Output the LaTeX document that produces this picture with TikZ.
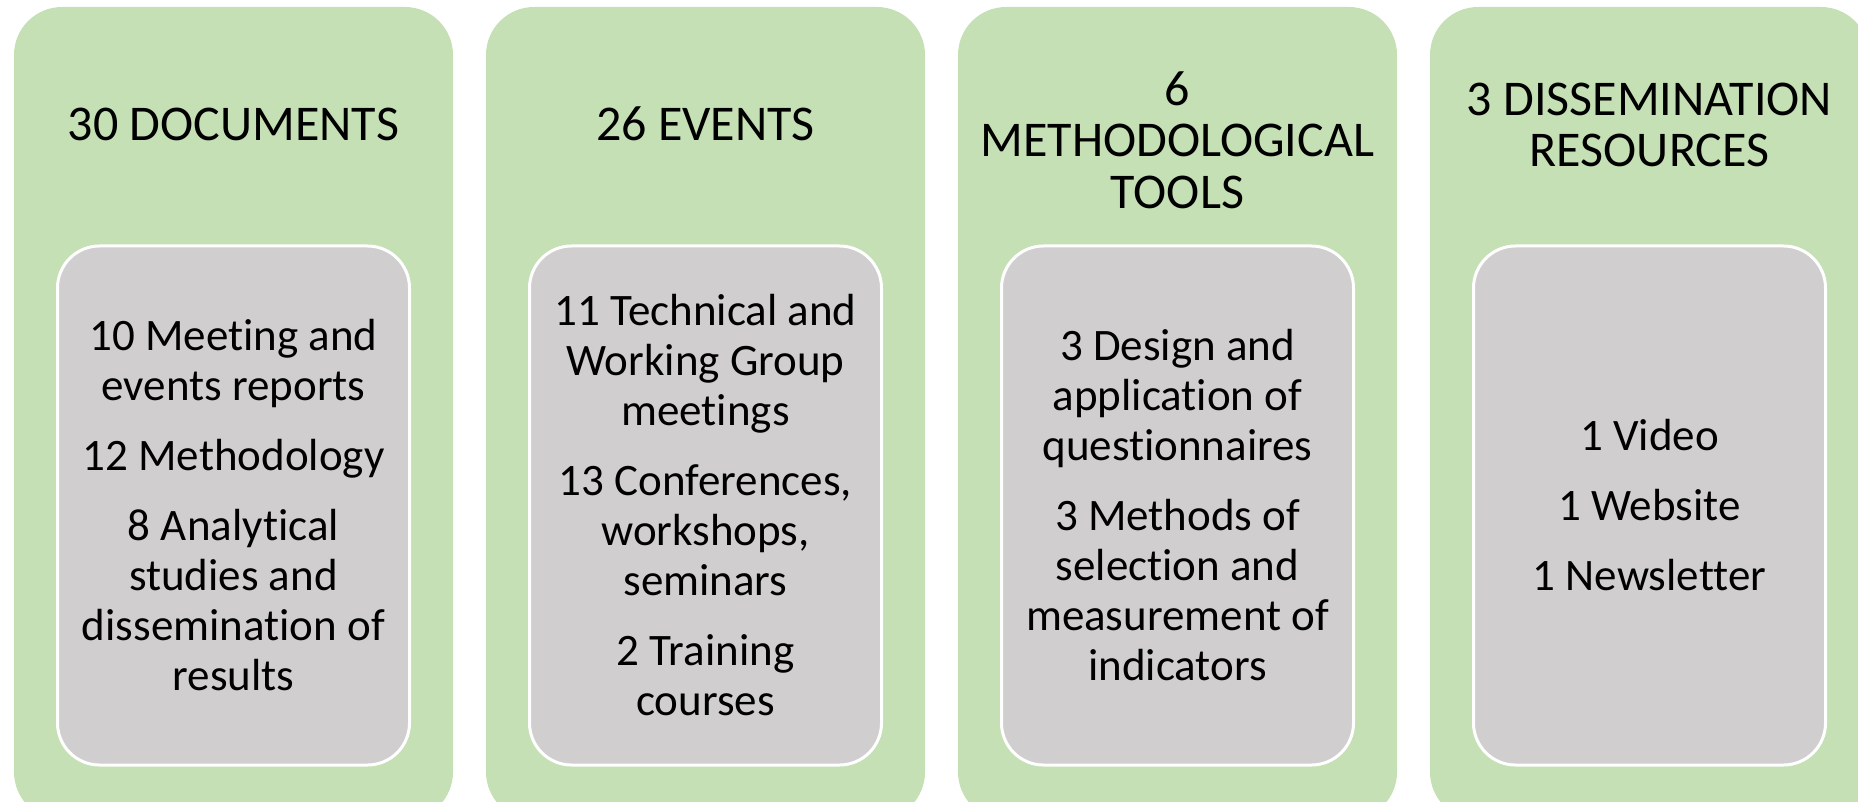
\documentclass[tikz,border=0pt]{standalone}
\usepackage{fontspec}
\setmainfont{Carlito}[RawFeature={-liga;-clig;-dlig}]
\definecolor{colgreen}{HTML}{C5E0B4}
\definecolor{colgray}{HTML}{D0CECE}
\begin{document}
\begin{tikzpicture}
        [x=0.5pt,y=-0.5pt,
         outer/.style={rectangle,rounded corners=24pt,fill=colgreen,minimum width=219.5pt,minimum height=406.5pt,inner sep=0pt},
         inner/.style={rectangle,rounded corners=21pt,fill=colgray,draw=white,line width=1.5pt,minimum width=176pt,minimum height=259.5pt,align=center,font=\fontsize{22.5}{25}\selectfont},
         title/.style={align=center,font=\fontsize{25}{25.75}\selectfont}]
        \useasboundingbox (0,0) rectangle (1858,802);
        \clip (0,0) rectangle (1858,802);
        %Columns
        \node[outer]  (Docs) at (233.5,413.5)      {};
        \node[outer]  (Events) at (705.5,413.5)    {};
        \node[outer]  (Tools) at (1177.5,413.5)    {};
        \node[outer]  (Dissem) at (1649.5,413.5)   {};

        %Titles
        \node[title]  (DocsT) at (233.5,124)       {30 DOCUMENTS};
        \node[title]  (EventsT) at (705.5,124)     {26 EVENTS};
        \node[title]  (ToolsT) at (1177.5,140)     {6\\METHODOLOGICAL\\TOOLS};
        \node[title]  (DissemT) at (1649.5,125)    {3 DISSEMINATION\\RESOURCES};

        %Inner boxes
        \node[inner]  (DocsI) at (233.5,505.5)
            {10 Meeting and\\events reports\\[10pt]12 Methodology\\[10pt]8 Analytical\\studies and\\dissemination of\\results};
        \node[inner]  (EventsI) at (705.5,505.5)
            {11 Technical and\\Working Group\\meetings\\[10pt]13 Conferences,\\workshops,\\seminars\\[10pt]2 Training\\courses};
        \node[inner]  (ToolsI) at (1177.5,505.5)
            {3 Design and\\application of\\questionnaires\\[10pt]3 Methods of\\selection and\\measurement of\\indicators};
        \node[inner]  (DissemI) at (1649.5,505.5)
            {1 Video\\[10pt]1 Website\\[10pt]1 Newsletter};
\end{tikzpicture}
\end{document}
